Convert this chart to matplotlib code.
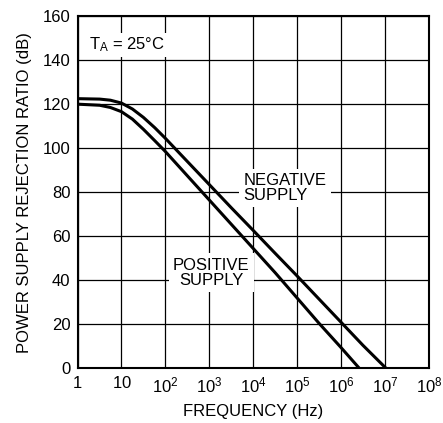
import matplotlib
matplotlib.use('Agg')
import matplotlib.pyplot as plt

plt.rcParams['font.family'] = ['Liberation Sans', 'DejaVu Sans']
plt.rcParams['mathtext.fontset'] = 'custom'
plt.rcParams['mathtext.rm'] = 'Liberation Sans'
plt.rcParams['mathtext.it'] = 'Liberation Sans'

# negative supply curve
neg_freq = [1, 3.2, 5.6, 10, 17.8, 31.6, 57.5, 100, 316, 1e3, 3.16e3, 1e4, 3.16e4,
            1e5, 3.16e5, 1e6, 3.16e6, 1.07e7]
neg_psrr = [122.5, 122.3, 121.8, 120.5, 117.8, 114, 109.3, 104.5, 94, 83.5, 73, 62.7,
            52.3, 42, 31.5, 21, 10.5, 0]

# positive supply curve
pos_freq = [1, 3.2, 5.6, 10, 17.8, 24, 31.6, 56.2, 100, 316, 1e3, 3.16e3, 1e4, 3.16e4,
            1e5, 3.16e5, 1e6, 2.63e6]
pos_psrr = [120, 119.5, 118.5, 116.6, 113.2, 110.8, 108.6, 103.6, 98.5, 87.5, 76.5, 65.5,
            54.5, 43.5, 32, 20.5, 9.5, 0]

x_ticks = [1, 10, 1e2, 1e3, 1e4, 1e5, 1e6, 1e7, 1e8]
x_labels = ['$1$', '$10$', '$10^2$', '$10^3$', '$10^4$', '$10^5$', '$10^6$', '$10^7$', '$10^8$']
y_ticks = [0, 20, 40, 60, 80, 100, 120, 140, 160]

fig = plt.figure(figsize=(4.43, 4.23), dpi=100)
ax = fig.add_axes([0.175, 0.129, 0.793, 0.833])

ax.plot(neg_freq, neg_psrr, color='black', lw=2.2, solid_capstyle='butt', zorder=4)
ax.plot(pos_freq, pos_psrr, color='black', lw=2.2, solid_capstyle='butt', zorder=4)

ax.set_xscale('log')
ax.set_xlim(1, 1e8)
ax.set_ylim(0, 160)
ax.set_xticks(x_ticks)
ax.set_xticklabels(x_labels)
ax.minorticks_off()
ax.set_yticks(y_ticks)
ax.tick_params(length=0, labelsize=12, pad=5)
ax.grid(True, color='black', lw=0.9)
ax.set_axisbelow(True)
for s in ax.spines.values():
    s.set_linewidth(1.5)

ax.set_xlabel('FREQUENCY (Hz)', fontsize=12, labelpad=6)
ax.set_ylabel('POWER SUPPLY REJECTION RATIO (dB)', fontsize=12, labelpad=8)

ax.text(1.8, 147, '$\\mathregular{T_A}$ = 25°C', fontsize=12, va='center', ha='left',
        bbox=dict(facecolor='white', edgecolor='none', pad=2), zorder=3)
ax.text(6e3, 82, 'NEGATIVE\nSUPPLY', fontsize=12, va='center', ha='left', linespacing=1.0,
        bbox=dict(facecolor='white', edgecolor='none', pad=3), zorder=3)
ax.text(1.1e3, 43.5, 'POSITIVE\nSUPPLY', fontsize=12, va='center', ha='center', linespacing=1.0,
        bbox=dict(facecolor='white', edgecolor='none', pad=3), zorder=3)

fig.savefig('out.png', dpi=100)
